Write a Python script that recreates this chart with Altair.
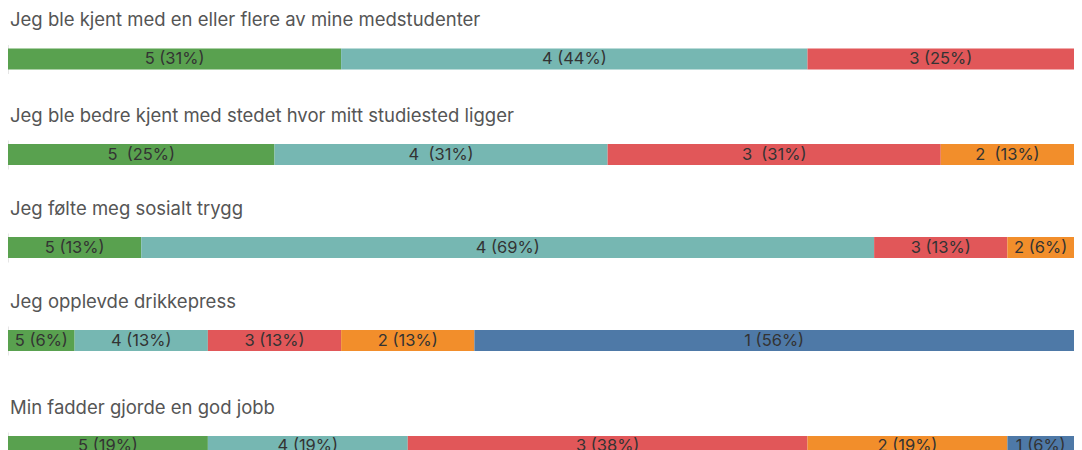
import altair as alt
import pandas as pd

questions = [
    "Jeg ble kjent med en eller flere av mine medstudenter",
    "Jeg ble bedre kjent med stedet hvor mitt studiested ligger",
    "Jeg følte meg sosialt trygg",
    "Jeg opplevde drikkepress",
    "Min fadder gjorde en god jobb",
]
levels = ["5", "4", "3", "2", "1"]
# number of answers per level (5 .. 1), 16 respondents
counts = [
    [5, 7, 4, 0, 0],
    [4, 5, 5, 2, 0],
    [2, 11, 2, 1, 0],
    [1, 2, 2, 2, 9],
    [3, 3, 6, 3, 1],
]
percents = [
    [31, 44, 25, 0, 0],
    [25, 31, 31, 13, 0],
    [13, 69, 13, 6, 0],
    [6, 13, 13, 13, 56],
    [19, 19, 38, 19, 6],
]
separators = [" ", "\u00a0 ", " ", " ", " "]
colors = ["#59A14F", "#76B7B2", "#E15759", "#F28E2B", "#4E79A7"]

FONT = "Inter"

records = []
for qi, q in enumerate(questions):
    for li, lev in enumerate(levels):
        c = counts[qi][li]
        if c > 0:
            records.append({
                "qi": qi,
                "question": q,
                "level": lev,
                "order": li,
                "count": c,
                "label": f"{lev}{separators[qi]}({percents[qi][li]}%)",
            })
df = pd.DataFrame(records)


def make_row(qi, last=False):
    base = (
        alt.Chart(df[df.qi == qi])
        .transform_window(x1="sum(count)", sort=[alt.SortField("order")], frame=[None, 0])
        .transform_calculate(x0="datum.x1 - datum.count")
        .transform_calculate(xm="(datum.x0 + datum.x1) / 2")
    )
    xscale = alt.Scale(domain=[0, 16], nice=False, zero=True)
    if last:
        yscale = alt.Scale(paddingInner=0, paddingOuter=0.0952, align=1)
        h = 25
    else:
        yscale = alt.Scale(paddingInner=0, paddingOuter=0.19)
        h = 29
    yenc = alt.Y(
        "qi:N",
        scale=yscale,
        axis=alt.Axis(labels=False, ticks=False, title=None, domainColor="#e6e6e6", domainWidth=1),
    )
    bars = base.mark_bar(size=21).encode(
        x=alt.X("x0:Q", scale=xscale, axis=None),
        x2="x1:Q",
        y=yenc,
        color=alt.Color("level:N", scale=alt.Scale(domain=levels, range=colors), legend=None),
    )
    text = base.mark_text(font=FONT, fontSize=16.5, color="#333333").encode(
        x=alt.X("xm:Q", scale=xscale, axis=None),
        y=yenc,
        text="label:N",
    )
    return alt.layer(bars, text).properties(
        width=1066,
        height=h,
        title=alt.TitleParams(
            text=questions[qi],
            anchor="start",
            font=FONT,
            fontSize=18.5,
            fontWeight="normal",
            color="#555555",
            baseline="alphabetic",
            offset=0,
            dx=2,
        ),
    )


rows = [make_row(i, last=(i == len(questions) - 1)) for i in range(len(questions))]
middle = alt.vconcat(rows[1], rows[2], rows[3], spacing=30)
top = alt.vconcat(rows[0], middle, spacing=32.5)
chart = (
    alt.vconcat(top, rows[4], spacing=42.5)
    .properties(padding={"left": 0, "top": 2.5, "right": 0, "bottom": 0})
    .configure_view(stroke=None)
)

chart.save("out.html", embed_options={"renderer": "svg", "actions": False})
